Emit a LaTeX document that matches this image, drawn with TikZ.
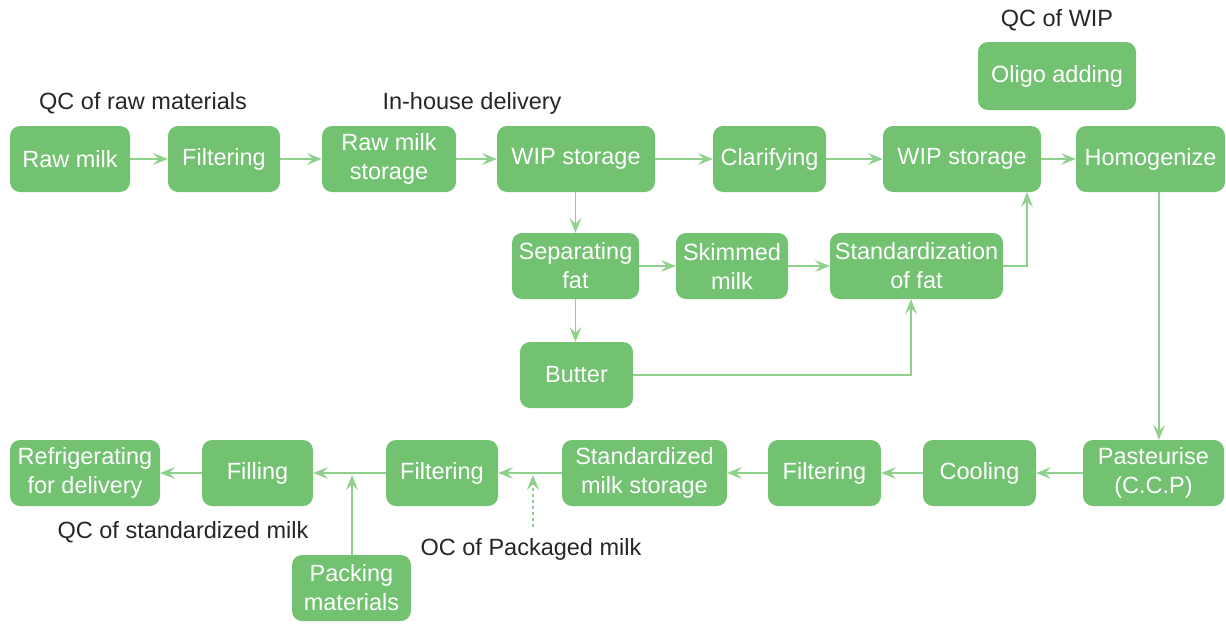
\documentclass[tikz,border=0pt]{standalone}
\usepackage{fontspec}
\setmainfont{Liberation Sans}
\usetikzlibrary{arrows.meta}
\definecolor{boxgreen}{HTML}{72C272}
\definecolor{linegreen}{HTML}{8ED08C}
\tikzset{
  box/.style={draw=none, fill=boxgreen, rounded corners=10pt, text=white, align=center,
    inner sep=0pt, font=\fontsize{23.5}{29}\selectfont},
  lbl/.style={text=black!85, font=\fontsize{23.5}{29}\selectfont, inner sep=0pt},
  conn/.style={draw=linegreen, line width=1.3pt, -{Stealth[length=15pt,width=12pt,inset=6pt]}},
  dconn/.style={conn, dashed, dash pattern=on 3pt off 3pt}
}
\begin{document}
\begin{tikzpicture}[x=1pt,y=-1pt]
\useasboundingbox (0,0) rectangle (1226,624);
% row 1
\node[box, minimum width=120pt, minimum height=66pt] (raw) at (70,159) {Raw milk};
\node[box, minimum width=112pt, minimum height=66pt] (filt1) at (224,159) {Filtering};
\node[box, minimum width=134pt, minimum height=66pt] (rms) at (389,159) {Raw milk\\storage};
\node[box, minimum width=158pt, minimum height=66pt] (wip1) at (576,159) {WIP storage};
\node[box, minimum width=113pt, minimum height=66pt] (clar) at (769.5,159) {Clarifying};
\node[box, minimum width=158pt, minimum height=66pt] (wip2) at (962,159) {WIP storage};
\node[box, minimum width=149pt, minimum height=66pt] (homo) at (1150.5,159) {Homogenize};
\node[box, minimum width=158pt, minimum height=68pt] (oligo) at (1057,76) {Oligo adding};
% row 2/3
\node[box, minimum width=127pt, minimum height=66pt] (sep) at (575.5,266) {Separating\\fat};
\node[box, minimum width=112pt, minimum height=66pt] (skim) at (732,266) {Skimmed\\milk};
\node[box, minimum width=173pt, minimum height=66pt] (std) at (916.5,266) {Standardization\\of fat};
\node[box, minimum width=113pt, minimum height=66pt] (butter) at (576.5,375) {Butter};
% row 4
\node[box, minimum width=150pt, minimum height=66pt] (refr) at (85,473) {Refrigerating\\for delivery};
\node[box, minimum width=111pt, minimum height=66pt] (fill) at (257.5,473) {Filling};
\node[box, minimum width=112pt, minimum height=66pt] (filt3) at (442,473) {Filtering};
\node[box, minimum width=165pt, minimum height=66pt] (sms) at (644.5,473) {Standardized\\milk storage};
\node[box, minimum width=113pt, minimum height=66pt] (filt2) at (824.5,473) {Filtering};
\node[box, minimum width=113pt, minimum height=66pt] (cool) at (979.5,473) {Cooling};
\node[box, minimum width=141pt, minimum height=66pt] (past) at (1153.5,473) {Pasteurise\\(C.C.P)};
\node[box, minimum width=119pt, minimum height=66pt] (pack) at (351.5,588) {Packing\\materials};
% labels
\node[lbl] (l1) at (143,103) {QC of raw materials};
\node[lbl] (l2) at (472,103) {In-house delivery};
\node[lbl] (l3) at (1057,20) {QC of WIP};
\node[lbl] (l4) at (183,532) {QC of standardized milk};
\node[lbl] (l5) at (531,549) {OC of Packaged milk};
% connectors row 1
\draw[conn] (raw) -- (filt1);
\draw[conn] (filt1) -- (rms);
\draw[conn] (rms) -- (wip1);
\draw[conn] (wip1) -- (clar);
\draw[conn] (clar) -- (wip2);
\draw[conn] (wip2) -- (homo);
% middle
\draw[conn] (wip1.south -| sep) -- (sep);
\draw[conn] (sep) -- (skim);
\draw[conn] (skim) -- (std);
\draw[conn] (sep.south) -- (sep.south |- butter.north);
\coordinate (bcorner) at (911,375);
\draw[conn] (butter) -- (bcorner) -- (bcorner |- std.south);
\coordinate (scorner) at (1027,266);
\draw[conn] (std) -- (scorner) -- (scorner |- wip2.south);
% down
\coordinate (hdown) at (1159,192);
\draw[conn] (homo.south -| hdown) -- (hdown |- past.north);
% row 4
\draw[conn] (past) -- (cool);
\draw[conn] (cool) -- (filt2);
\draw[conn] (filt2) -- (sms);
\draw[conn] (sms) -- (filt3);
\draw[conn] (filt3) -- (fill);
\draw[conn] (fill) -- (refr);
\coordinate (packtop) at (352,475);
\draw[conn] (pack.north -| packtop) -- (packtop);
\coordinate (dtop) at (533,475);
\coordinate (dbot) at (533,527);
\draw[dconn] (dbot) -- (dtop);
\end{tikzpicture}
\end{document}
